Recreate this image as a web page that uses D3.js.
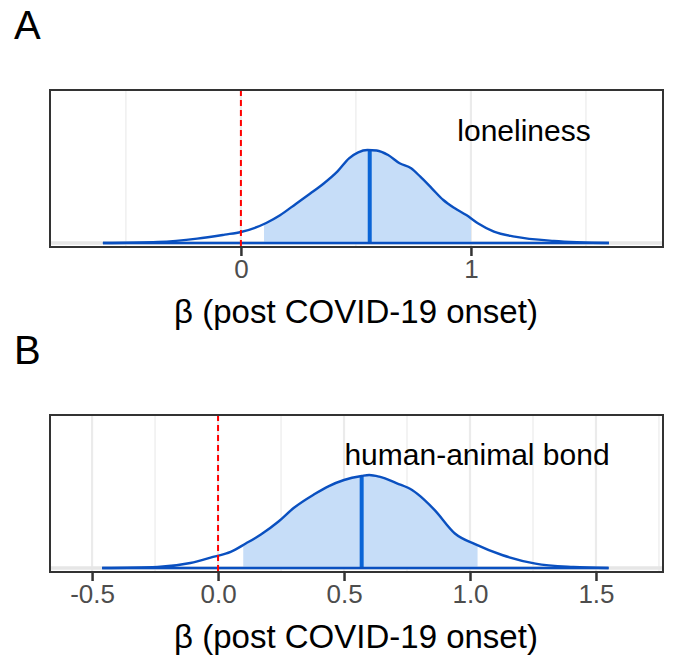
<!DOCTYPE html>
<html>
<head>
<meta charset="utf-8">
<script src="https://cdn.jsdelivr.net/npm/d3@7"></script>
<style>
  body { margin: 0; background: #fff; }
  text { font-family: "Liberation Sans", Arial, Helvetica, sans-serif; }
</style>
</head>
<body>
<div id="chart"></div>
<script>
// posterior density of beta, loneliness model (relative height)
const lonelinessX = [-0.60, -0.36, -0.19, -0.07, 0.00, 0.11, 0.17, 0.24, 0.30, 0.36, 0.42, 0.47, 0.51, 0.55, 0.59, 0.64, 0.69, 0.74, 0.78, 0.83, 0.88, 0.93, 0.98, 1.03, 1.10, 1.19, 1.36, 1.60];
const lonelinessDensity = [0.0, 0.011, 0.047, 0.09, 0.118, 0.215, 0.298, 0.423, 0.53, 0.64, 0.77, 0.91, 0.975, 1.0, 0.995, 0.946, 0.857, 0.803, 0.713, 0.588, 0.462, 0.373, 0.30, 0.212, 0.122, 0.068, 0.022, 0.0];
const lonelinessMedian = 0.56;
const lonelinessCI = [0.10, 1.00];

// posterior density of beta, human-animal bond model
const bondX = [-0.46, -0.24, -0.11, -0.02, 0.05, 0.11, 0.17, 0.24, 0.30, 0.38, 0.44, 0.50, 0.57, 0.60, 0.64, 0.71, 0.77, 0.82, 0.86, 0.94, 1.02, 1.13, 1.26, 1.41, 1.55];
const bondDensity = [0.0, 0.011, 0.054, 0.119, 0.173, 0.263, 0.36, 0.50, 0.645, 0.79, 0.881, 0.946, 0.989, 1.0, 0.982, 0.91, 0.838, 0.73, 0.622, 0.371, 0.256, 0.137, 0.047, 0.011, 0.0];
const bondMedian = 0.57;
const bondCI = [0.10, 1.03];

const ticksA = [0, 1];
const minorA = [-0.5, 0.5, 1.5];
const limitsA = [-0.83, 1.835];
const ticksB = [-0.5, 0, 0.5, 1, 1.5];
const minorB = [-0.25, 0.25, 0.75, 1.25, 1.75];
const limitsB = [-0.667, 1.766];

const width = 675, height = 655;
const svg = d3.select('#chart').append('svg')
  .attr('width', width)
  .attr('height', height);

function drawPanel(opts) {
  const x = d3.scaleLinear().domain(opts.limits).range([50, 663]);
  const y = d3.scaleLinear().domain([-0.043, 1.645]).range([opts.top + 157, opts.top]);
  const g = svg.append('g');
  const pts = opts.xs.map((v, i) => [v, opts.dens[i]]);
  const clipId = 'clip-' + opts.key;

  // panel label
  svg.append('text')
    .attr('x', 14).attr('y', opts.top - 51)
    .attr('font-size', 40)
    .text(opts.letter);

  // grid
  g.selectAll('.minor').data(opts.minor).join('line')
    .attr('x1', (d) => x(d)).attr('x2', (d) => x(d))
    .attr('y1', opts.top).attr('y2', opts.top + 157)
    .attr('stroke', '#ebebeb').attr('stroke-width', 1.2);
  g.selectAll('.major').data(opts.ticks).join('line')
    .attr('x1', (d) => x(d)).attr('x2', (d) => x(d))
    .attr('y1', opts.top).attr('y2', opts.top + 157)
    .attr('stroke', '#ebebeb').attr('stroke-width', 2.2);
  g.append('line')
    .attr('x1', 50).attr('x2', 663)
    .attr('y1', y(0)).attr('y2', y(0))
    .attr('stroke', '#e6e6e6').attr('stroke-width', 3.5);

  // credible interval fill
  g.append('clipPath').attr('id', clipId)
    .append('rect')
    .attr('x', x(opts.ci[0])).attr('width', x(opts.ci[1]) - x(opts.ci[0]))
    .attr('y', opts.top).attr('height', 157);
  const area = d3.area()
    .x((d) => x(d[0]))
    .y0(y(0))
    .y1((d) => y(d[1]))
    .curve(d3.curveMonotoneX);
  g.append('path')
    .datum(pts)
    .attr('clip-path', `url(#${clipId})`)
    .attr('fill', '#c6ddf8')
    .attr('d', area);

  // median line, reaching up to the curve
  const idx = d3.bisectLeft(opts.xs, opts.median);
  const t = (opts.median - opts.xs[idx - 1]) / (opts.xs[idx] - opts.xs[idx - 1]);
  const medDensity = opts.dens[idx - 1] + t * (opts.dens[idx] - opts.dens[idx - 1]);
  g.append('line')
    .attr('x1', x(opts.median)).attr('x2', x(opts.median))
    .attr('y1', y(0)).attr('y2', y(medDensity))
    .attr('stroke', '#0a64d6').attr('stroke-width', 4);

  // density outline
  const line = d3.line()
    .x((d) => x(d[0]))
    .y((d) => y(d[1]))
    .curve(d3.curveMonotoneX);
  g.append('path')
    .datum(pts)
    .attr('fill', 'none')
    .attr('stroke', '#0a50c0')
    .attr('stroke-width', 2.4)
    .attr('d', line);
  g.append('line')
    .attr('x1', x(opts.xs[0])).attr('x2', x(opts.xs[opts.xs.length - 1]))
    .attr('y1', y(0)).attr('y2', y(0))
    .attr('stroke', '#0a50c0').attr('stroke-width', 2.6);

  // zero reference
  g.append('line')
    .attr('x1', x(0)).attr('x2', x(0))
    .attr('y1', opts.top).attr('y2', opts.top + 157)
    .attr('stroke', '#ff0000').attr('stroke-width', 2)
    .attr('stroke-dasharray', '6,4');

  // outcome label
  g.append('text')
    .attr('x', opts.labelX).attr('y', opts.top + opts.labelDy)
    .attr('text-anchor', 'middle')
    .attr('font-size', 30)
    .text(opts.label);

  // border
  g.append('rect')
    .attr('x', 50).attr('y', opts.top)
    .attr('width', 613).attr('height', 157)
    .attr('fill', 'none').attr('stroke', '#333').attr('stroke-width', 2);

  // x axis
  const axis = g.append('g')
    .attr('transform', `translate(0, ${opts.top + 158})`)
    .call(d3.axisBottom(x).tickValues(opts.ticks).tickSize(8).tickPadding(4)
      .tickFormat((d) => opts.fmt(d).replace('\u2212', '-')));
  axis.select('.domain').remove();
  axis.selectAll('.tick line').attr('stroke', '#333').attr('stroke-width', 2.5);
  axis.selectAll('.tick text')
    .attr('fill', '#4d4d4d')
    .attr('font-size', 26)
    .style('font-family', '"Liberation Sans", Arial, sans-serif');

  svg.append('text')
    .attr('x', 356).attr('y', opts.top + 233)
    .attr('text-anchor', 'middle')
    .attr('font-size', 33)
    .text('β (post COVID-19 onset)');
}

drawPanel({
  key: 'a', letter: 'A', top: 90,
  xs: lonelinessX, dens: lonelinessDensity,
  median: lonelinessMedian, ci: lonelinessCI,
  ticks: ticksA, minor: minorA, limits: limitsA,
  fmt: d3.format('d'),
  label: 'loneliness', labelX: 524, labelDy: 51
});

drawPanel({
  key: 'b', letter: 'B', top: 415,
  xs: bondX, dens: bondDensity,
  median: bondMedian, ci: bondCI,
  ticks: ticksB, minor: minorB, limits: limitsB,
  fmt: d3.format('.1f'),
  label: 'human-animal bond', labelX: 477, labelDy: 50
});
</script>
</body>
</html>
